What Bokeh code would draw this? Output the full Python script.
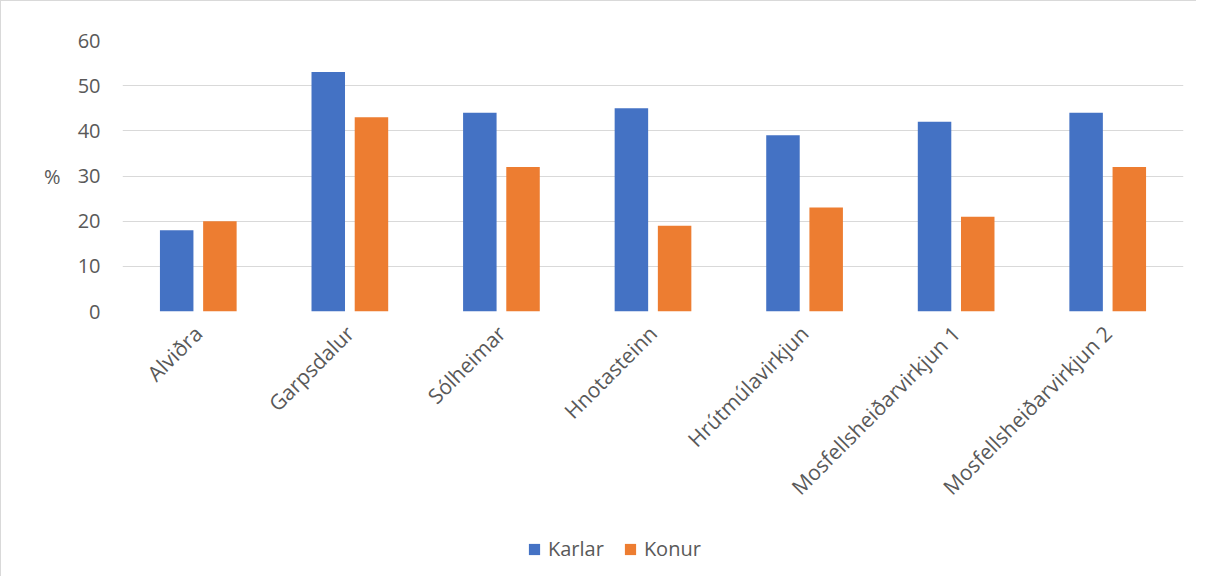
from math import pi
from bokeh.plotting import figure
from bokeh.models import ColumnDataSource, Range1d, Legend, LegendItem, LinearAxis, FixedTicker
from bokeh.layouts import column
from bokeh.transform import dodge
from bokeh.embed import file_html
from bokeh.resources import INLINE

categories = ["Alviðra", "Garpsdalur", "Sólheimar", "Hnotasteinn",
              "Hrútmúlavirkjun", "Mosfellsheiðarvirkjun 1", "Mosfellsheiðarvirkjun 2"]
karlar = [18, 53, 44, 45, 39, 42, 44]
konur = [20, 43, 32, 19, 23, 21, 32]
y_ticks = [0, 10, 20, 30, 40, 50, 60]
series_names = ["Karlar", "Konur"]
series_colors = ["#4472C4", "#ED7D31"]
y_label = "%"

FONT = "Open Sans"
TXT = "#595959"
W = 1195

src = ColumnDataSource(dict(cat=categories, karlar=karlar, konur=konur))

p = figure(x_range=categories, y_range=Range1d(0, 60), width=W, height=520,
           output_backend="svg", toolbar_location=None,
           min_border_left=121, min_border_right=13, min_border_top=39, min_border_bottom=210)
p.x_range.range_padding = 0
p.x_range.factor_padding = 0
p.outline_line_color = None

p.vbar(x=dodge("cat", -0.1425, range=p.x_range), top="karlar", width=0.221,
       source=src, fill_color=series_colors[0], line_color=None)
p.vbar(x=dodge("cat", 0.1425, range=p.x_range), top="konur", width=0.221,
       source=src, fill_color=series_colors[1], line_color=None)

p.xgrid.grid_line_color = None
p.ygrid.grid_line_color = "#d9d9d9"
p.ygrid.grid_line_width = 1
p.yaxis.ticker = y_ticks


def style_axis(ax, size):
    ax.axis_line_color = None
    ax.major_tick_line_color = None
    ax.minor_tick_line_color = None
    ax.major_tick_out = 0
    ax.major_tick_in = 0
    ax.minor_tick_out = 0
    ax.minor_tick_in = 0
    ax.major_label_text_font = FONT
    ax.major_label_text_font_size = size
    ax.major_label_text_color = TXT


style_axis(p.xaxis[0], "21px")
style_axis(p.yaxis[0], "20px")
p.yaxis.major_label_standoff = 22
p.xaxis.major_label_orientation = pi / 4
p.xaxis.major_label_standoff = 18

# "%" label as a second left axis with a single tick at the middle value
pct_axis = LinearAxis(ticker=FixedTicker(ticks=[30]), major_label_overrides={30: y_label})
style_axis(pct_axis, "20px")
pct_axis.major_label_standoff = 14
p.add_layout(pct_axis, "left")

# legend in its own strip below the chart
lg = figure(width=W, height=55, x_range=Range1d(0, 1), y_range=Range1d(0, 1),
            output_backend="svg", toolbar_location=None,
            x_axis_type=None, y_axis_type=None,
            min_border_left=0, min_border_right=0, min_border_top=0, min_border_bottom=0)
lg.outline_line_color = None
lg.grid.grid_line_color = None
items = []
for name, col in zip(series_names, series_colors):
    # zero-height placeholder bar, used only for the legend swatch
    r = lg.vbar(x=[0], top=[0], bottom=[0], width=0.01, fill_color=col, line_color=None)
    items.append(LegendItem(label=name, renderers=[r]))
legend = Legend(items=items, location=(405, 14), orientation="horizontal",
                label_text_font=FONT, label_text_font_size="20px", label_text_color=TXT,
                glyph_width=14, glyph_height=14, label_standoff=7, spacing=19,
                padding=0, margin=0, border_line_color=None, background_fill_alpha=0)
lg.add_layout(legend, "center")

layout = column(p, lg, spacing=0)
layout.styles = {"border-left": "1px solid #d9d9d9", "border-top": "1px solid #d9d9d9"}

open("out.html", "w").write(file_html(layout, INLINE))
